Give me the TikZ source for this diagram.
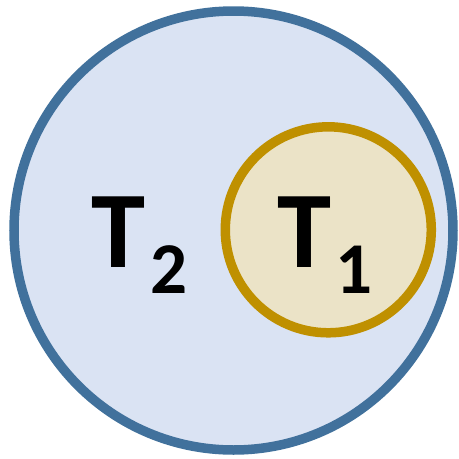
\documentclass[tikz,border=0pt]{standalone}
\usepackage{fontspec}
\setmainfont{Carlito}
\definecolor{outerline}{HTML}{41719C}
\definecolor{outerfill}{HTML}{DAE3F3}
\definecolor{innerline}{HTML}{BF9000}
\definecolor{innerfill}{HTML}{EBE3C7}
\begin{document}
\begin{tikzpicture}[x=1pt,y=-1pt,
  setcircle/.style={circle,inner sep=0pt,line width=9.5pt},
  bigT/.style={inner sep=0pt,anchor=base west,font=\fontsize{109}{109}\selectfont\bfseries},
  subdigit/.style={inner sep=0pt,anchor=base west,font=\fontsize{73}{73}\selectfont\bfseries}]
\useasboundingbox (0,0) rectangle (459,459);
\node[setcircle,draw=outerline,fill=outerfill,minimum size=439pt] (t2set) at (233.5,230.5) {};
\node[setcircle,draw=innerline,fill=innerfill,minimum size=206pt] (t1set) at (328.3,229.8) {};
\node[bigT] (t2) at (91,267) {T};
\node[subdigit] (t2s) at (150,293) {2};
\node[bigT] (t1) at (277,267) {T};
\node[subdigit] (t1s) at (335,293) {1};
\end{tikzpicture}
\end{document}
